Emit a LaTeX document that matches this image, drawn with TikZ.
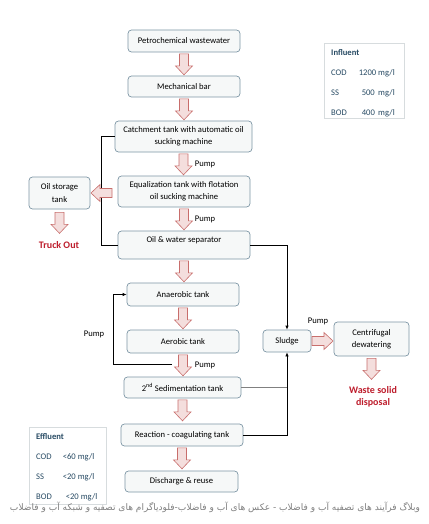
\documentclass[tikz,border=0pt]{standalone}
\usepackage{fontspec}
\usepackage{graphicx}
\setmainfont{Carlito}
\newfontfamily\arabicfont[Script=Arabic]{DejaVu Sans}
\TeXXeTstate=1
\usetikzlibrary{arrows.meta}
\definecolor{boxline}{RGB}{125,150,165}
\definecolor{boxfill}{RGB}{246,248,248}
\definecolor{arrowline}{RGB}{200,110,108}
\definecolor{arrowfill}{RGB}{244,222,221}
\definecolor{infotext}{RGB}{40,75,100}
\definecolor{infoline}{RGB}{215,220,222}
\definecolor{redtext}{RGB}{190,30,45}
\tikzset{
  procbox/.style={draw=boxline, fill=boxfill, rounded corners=3.5pt, line width=0.7pt,
    align=center, inner sep=1pt, minimum width=112, minimum height=22},
  infobox/.style={draw=infoline, line width=0.6pt, anchor=north west, inner sep=0pt},
  infotab/.style={text=infotext, anchor=north west, inner sep=0pt},
  outlabel/.style={text=redtext, font=\bfseries, align=center},
  linkline/.style={draw=black, line width=0.7pt},
  linkarrow/.style={linkline, -{Latex[length=4pt,width=3.5pt]}},
  pics/flowarrow/.style={code={
    \draw[draw=arrowline, fill=arrowfill, line width=0.6pt]
      (-4.5,0) -- (4.5,0) -- (4.5,12) -- (8.5,12) -- (0,21) -- (-8.5,12) -- (-4.5,12) -- cycle;}}
}
\begin{document}
\begin{tikzpicture}[x=1pt, y=-1pt, font=\fontsize{8.6}{12.3}\selectfont]
  \useasboundingbox[fill=white] (0,0) rectangle (428,524);

  % main treatment line
  \node[procbox] (pw) at (184,41) {Petrochemical wastewater};
  \node[procbox, minimum height=21] (mb) at (184,86.5) {Mechanical bar};
  \node[procbox, minimum width=137, minimum height=31] (catch) at (183.5,136.5) {Catchment tank with automatic oil\\sucking machine};
  \node[procbox, minimum width=132, minimum height=31] (equal) at (184,191.5) {Equalization tank with flotation\\oil sucking machine};
  \node[procbox, minimum width=132, minimum height=28, text height=6.4pt, text depth=11.7pt] (sep) at (184,245) {Oil \& water separator};
  \node[procbox, minimum height=23] (anaer) at (183,294.5) {Anaerobic tank};
  \node[procbox, minimum height=23] (aer) at (183,341.5) {Aerobic tank};
  \node[procbox, minimum width=117, minimum height=21] (sedim) at (182.5,387.5) {2\textsuperscript{nd} Sedimentation tank};
  \node[procbox, minimum width=122] (react) at (182,435) {Reaction - coagulating tank};
  \node[procbox, minimum width=113, minimum height=21] (disch) at (181.5,481.5) {Discharge \& reuse};

  \foreach \a in {pw,mb,catch,equal,sep,anaer,aer,sedim,react}
    \pic at ([yshift=-1.5pt]\a.south) {flowarrow};
  \node (pump1) at (205,164) {Pump};
  \node (pump2) at (205,219) {Pump};
  \node (pump3) at (205,365) {Pump};

  % oil branch
  \node[procbox, minimum width=61, minimum height=32] (oilst) at (59.5,193) {Oil storage\\tank};
  \coordinate (oilbus) at (101,0);
  \draw[linkline] (catch.west) -- (catch.west -| oilbus) |- (sep.west);
  \pic[rotate=-90] at (112,193) {flowarrow};
  \pic at ([yshift=-3pt]oilst.south) {flowarrow};
  \node[outlabel] (truck) at (59,245) {Truck Out};

  % return sludge
  \coordinate (recstart) at (172,364);
  \coordinate (recleft) at (113,0);
  \draw[linkarrow] (recstart) -- (recstart -| recleft) |- (anaer.west);
  \node (pump4) at (94,334) {Pump};

  % sludge line
  \node[procbox, minimum width=48] (sludge) at (287,341) {Sludge};
  \node[procbox, minimum width=75, minimum height=34] (centri) at (371.5,339) {Centrifugal\\dewatering};
  \draw[linkarrow] (sep.east) -| (sludge.north);
  \draw[linkline, draw=gray] (sedim.east) -- (sedim.east -| sludge.south);
  \draw[linkarrow] (react.east) -| (sludge.south);
  \pic[rotate=90] at (312,341) {flowarrow};
  \node (pump5) at (318,321) {Pump};
  \pic at ([yshift=-2pt]centri.south) {flowarrow};
  \node[outlabel] (waste) at (373,396.5) {Waste solid\\disposal};

  % water quality
  \node[infobox, minimum width=80, minimum height=75] (influent) at (324,43) {};
  \node[infotab] (inftab) at ([xshift=7pt, yshift=-3.4pt]influent.north west) {%
    \begin{tabular}{@{}l@{\hspace{12pt}}r@{}}
      \multicolumn{2}{@{}l@{}}{\textbf{Influent}}\\[7.7pt]
      COD & 1200 mg/l\\[7.7pt]
      SS & 500\, mg/l\\[7.7pt]
      BOD & 400\, mg/l
    \end{tabular}};
  \node[infobox, minimum width=77, minimum height=77] (effluent) at (29,427) {};
  \node[infotab] (efftab) at ([xshift=7pt, yshift=-3.4pt]effluent.north west) {%
    \begin{tabular}{@{}l@{\hspace{11pt}}l@{}}
      \multicolumn{2}{@{}l@{}}{\textbf{Effluent}}\\[7.7pt]
      COD & <60 mg/l\\[7.7pt]
      SS & <20 mg/l\\[7.7pt]
      BOD & \hspace{3pt}<20 mg/l
    \end{tabular}};

  \node[text=gray, inner sep=0pt] (blogline) at (215,507) {\resizebox{410pt}{!}{\arabicfont\beginR وبلاگ فرآیند های تصفیه آب و فاضلاب - عکس های آب و فاضلاب-فلودیاگرام های تصفیه و شبکه آب و فاضلاب\endR}};
\end{tikzpicture}
\end{document}
